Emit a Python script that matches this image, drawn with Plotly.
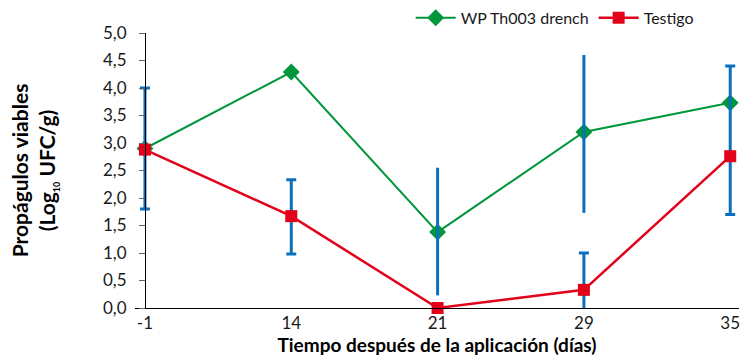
import plotly.graph_objects as go

# Sampling days (categorical positions)
days = ["-1", "14", "21", "29", "35"]

# Viable propagules, log10 CFU/g
wp_th003 = [2.90, 4.29, 1.38, 3.20, 3.73]
testigo = [2.88, 1.67, 0.00, 0.33, 2.76]

# Error bar spans (low/high ends), with and without caps
cap_days = ["-1", "14", "35"]
cap_low = [1.80, 0.98, 1.70]
cap_high = [4.00, 2.33, 4.40]

# bar reaching below the x axis: its lower end is cut by the plot area
clip_days = ["29"]
clip_low = [-0.10]
clip_high = [1.00]

nocap_days = ["21", "29"]
nocap_low = [0.23, 1.73]
nocap_high = [2.55, 4.60]

y_ticks = [0, 0.5, 1, 1.5, 2, 2.5, 3, 3.5, 4, 4.5, 5]

GREEN = "#00963c"
RED = "#e2001a"
BLUE = "#0a6fbd"
INK = "#1a1a1a"
FONT = "Lato"

# x range padded a little so end markers and caps are not cut;
# the y axis line is placed on the first category
X_RANGE = [-0.068, 4.06]
y_axis_pos = (0 - X_RANGE[0]) / (X_RANGE[1] - X_RANGE[0])

fig = go.Figure()

fig.add_trace(go.Scatter(
    x=days, y=wp_th003, name="WP Th003 drench",
    mode="lines+markers",
    line=dict(color=GREEN, width=2),
    marker=dict(symbol="diamond", size=13, color=GREEN),
    cliponaxis=False,
))


def span_trace(xs, lows, highs, cap):
    return go.Scatter(
        x=xs, y=lows, mode="markers", showlegend=False, hoverinfo="skip",
        marker=dict(size=1, opacity=0),
        error_y=dict(type="data", symmetric=False,
                     array=[h - l for h, l in zip(highs, lows)],
                     arrayminus=[0] * len(xs),
                     color=BLUE, thickness=3, width=cap),
    )


fig.add_trace(span_trace(cap_days, cap_low, cap_high, 5))
fig.add_trace(span_trace(clip_days, clip_low, clip_high, 5))
fig.add_trace(span_trace(nocap_days, nocap_low, nocap_high, 0))

fig.add_trace(go.Scatter(
    x=days, y=testigo, name="Testigo",
    mode="lines+markers",
    line=dict(color=RED, width=2.5),
    marker=dict(symbol="square", size=12, color=RED),
    cliponaxis=False,
))

fig.update_layout(
    width=740, height=356,
    margin=dict(l=135, r=1, t=33, b=48, autoexpand=False),
    paper_bgcolor="white", plot_bgcolor="white",
    separators=",.",
    font=dict(family=FONT, size=16, color=INK),
    showlegend=True,
    legend=dict(orientation="h", xref="container", yref="container",
                x=0.555, xanchor="left", y=0.95, yanchor="middle",
                font=dict(family=FONT, size=16, color=INK),
                bgcolor="rgba(0,0,0,0)", itemwidth=40),
    xaxis=dict(
        type="category", categoryorder="array", categoryarray=days,
        range=X_RANGE, showgrid=False, zeroline=False,
        showline=True, linecolor="black", linewidth=1,
        ticks="", tickfont=dict(family=FONT, size=17, color=INK),
        title=dict(text="<b>Tiempo después de la aplicación (días)</b>",
                   font=dict(family=FONT, size=19, color="black"), standoff=11),
    ),
    yaxis=dict(
        range=[0, 5], tickvals=y_ticks, tickformat=".1f",
        anchor="free", position=y_axis_pos,
        showgrid=False, zeroline=False,
        showline=True, linecolor="black", linewidth=1,
        ticks="outside", ticklen=6, tickcolor="#666666",
        ticklabelstandoff=9,
        tickfont=dict(family=FONT, size=17, color=INK),
        title=dict(text="<b>Propágulos viables<br>(Log<sub><span style='font-size:9px'>10</span></sub> UFC/g)</b>",
                   font=dict(family=FONT, size=21, color="black"), standoff=40),
    ),
)

fig.write_html("out.html")
